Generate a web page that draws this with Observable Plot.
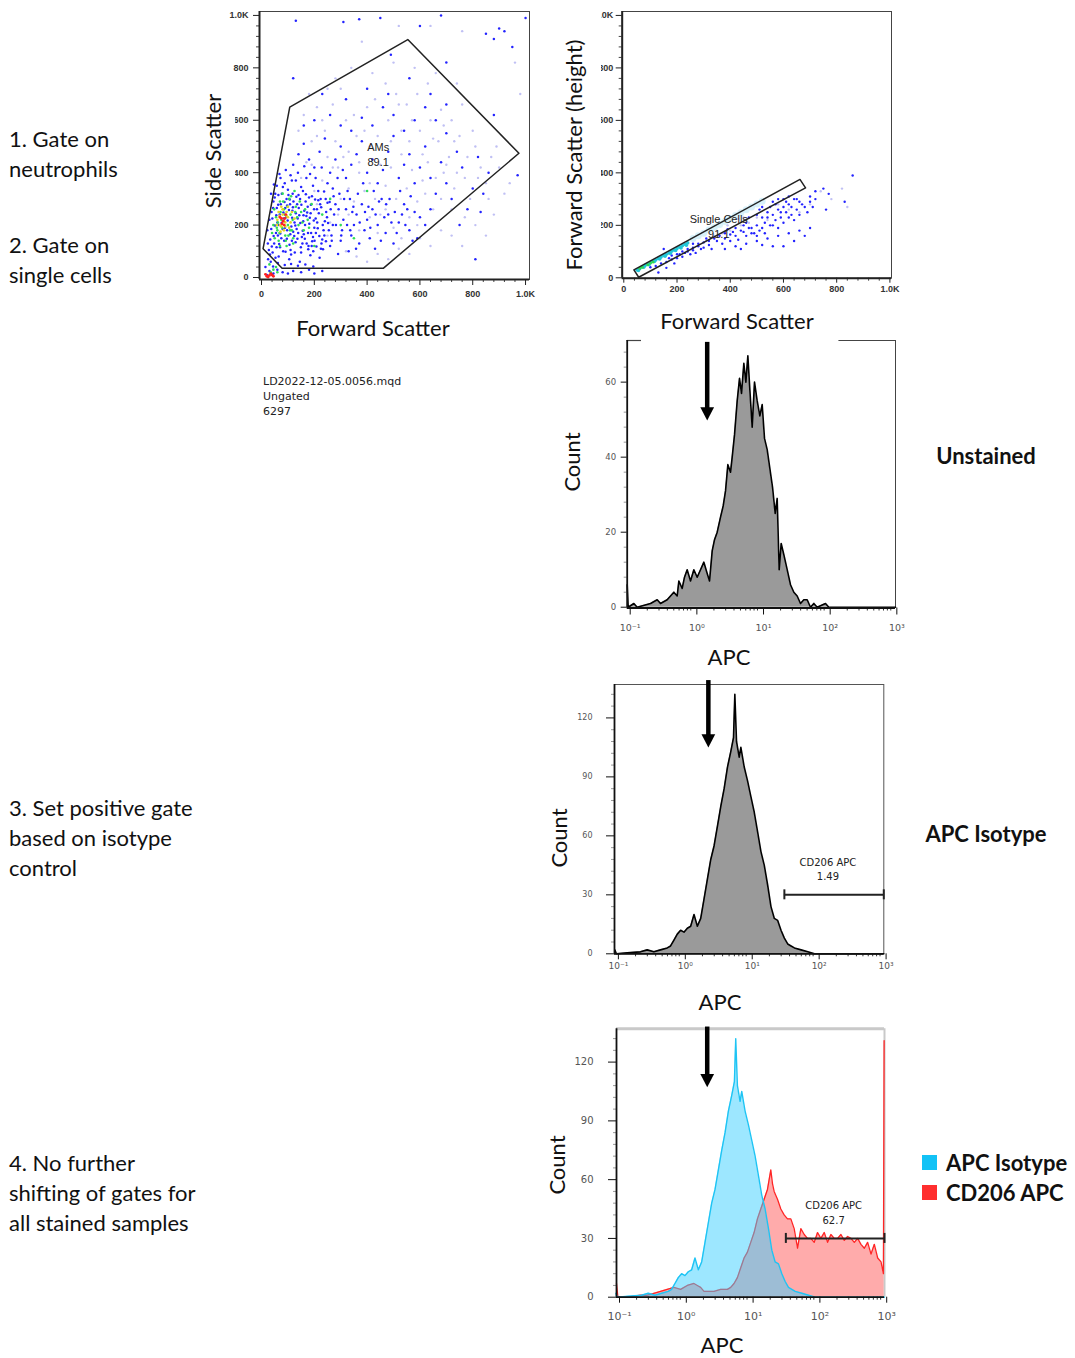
<!DOCTYPE html>
<html><head><meta charset="utf-8">
<script src="https://cdn.jsdelivr.net/npm/d3@7"></script>
<script src="https://cdn.jsdelivr.net/npm/@observablehq/plot@0.6"></script>
<style>
body{margin:0;background:#fff;}
#root{position:relative;width:1075px;height:1358px;overflow:hidden;background:#fff;font-family:Lato,"Noto Sans",sans-serif;color:#111;}
.abs{position:absolute;white-space:nowrap;}
.step{font-size:22px;line-height:30px;}
.title{font-size:22px;line-height:22px;}
.bold{font-weight:bold;font-size:22px;line-height:24px;}
.small{font-family:"DejaVu Sans",sans-serif;font-size:11px;line-height:15px;color:#222;}
svg{position:absolute;overflow:visible;}
</style></head>
<body><div id="root"></div>
<script>
// ---------------- DATA ----------------
// Panel 1: Forward Scatter vs Side Scatter
const amsGate = [[6,110],[78,35],[461,35],[975,474],[554,908],[107,650],[6,110]];
const amsDark = [[35,60],[42,95],[48,130],[55,170],[60,210],[38,250],[45,290],[52,320],[65,80],[70,115],[75,150],[80,185],[85,225],[90,265],[95,300],[100,335],[105,70],[110,105],[115,140],[120,175],[125,210],[130,245],[135,280],[140,315],[145,60],[150,95],[155,130],[160,165],[165,200],[170,235],[175,270],[180,305],[185,85],[190,120],[195,155],[200,190],[205,225],[210,260],[215,295],[220,75],[225,110],[230,145],[235,180],[240,215],[245,250],[250,285],[58,350],[72,380],[88,360],[110,390],[130,370],[150,345],[170,380],[195,350],[215,330],[260,120],[265,160],[270,200],[275,240],[280,280],[290,90],[295,320],[300,140],[305,180],[310,220],[320,260],[330,100],[335,300],[340,160],[350,200],[360,240],[370,130],[380,280],[390,180],[400,220],[410,150],[420,260],[430,110],[440,200],[455,300],[470,170],[480,240],[500,130],[520,210],[540,280],[560,180],[580,250],
[28,105],[33,145],[37,185],[41,225],[44,265],[50,305],[53,75],[57,115],[62,160],[66,200],[69,240],[73,280],[77,320],[82,100],[86,140],[89,190],[93,230],[97,275],[102,315],[106,125],[109,165],[113,195],[117,255],[121,290],[126,95],[129,135],[133,185],[137,225],[141,265],[146,300],[149,115],[153,155],[158,215],[162,255],[167,290],[171,130],[176,170],[181,205],[186,245],[191,310],[196,100],[201,140],[206,170],[211,210],[217,245],[222,280],[227,130],[232,200],[238,160],[243,300],[248,230],[255,180],[262,260],[58,265],[64,315],[81,345],[97,180],[108,280],[118,320],[139,170],[157,330],[178,120],[188,170],[199,260],[224,300],[36,320],[47,355],[68,395],[92,410],[115,370],[138,400],[162,425],[184,395],[205,380],[228,420],[250,360],[270,340],[288,380],[308,410],[326,330],[344,250],[365,320],[385,360],[405,270],[425,330],[445,290],[465,230],[485,300],[505,250],[525,330],[545,200],[565,310],[590,150],
[32,88],[39,118],[46,158],[51,198],[56,238],[63,278],[67,128],[71,168],[76,208],[83,248],[87,288],[91,98],[96,148],[99,218],[104,258],[107,298],[112,88],[116,228],[119,268],[124,158],[128,198],[132,308],[136,148],[143,238],[147,208],[151,278],[156,178],[159,238],[164,148],[168,318],[173,248],[177,108],[183,228],[187,278],[192,138],[198,218],[203,298],[208,118],[213,188],[219,158],[226,268],[233,108],[237,328],[244,138],[252,208],[258,288],[266,140],[273,310],[282,200],[292,260],[302,160],[313,300],[324,200],[336,180],[348,270],[358,110],[372,210],[392,250],[412,190],[432,240],[452,140],[472,280],[492,210],[512,170],[532,240],[552,260],[572,140],[600,230],[620,200],[640,260],[44,42],[62,55],[88,48],[112,52],[138,45],[166,50],[196,42],[24,130],[22,180],[30,220],
[120,430],[140,470],[160,510],[180,450],[200,420],[220,480],[240,530],[260,400],[280,450],[300,500],[320,380],[340,430],[360,470],[380,520],[400,400],[420,450],[440,360],[460,410],[480,480],[500,540],[520,380],[540,430],[560,470],[580,360],[600,420],[620,500],[640,380],[660,320],[680,440],[700,360],[720,300],[750,200],[780,260],[800,340],[840,320],[160,580],[200,600],[260,620],[300,580],[340,560],[380,610],[420,580],[460,650],[500,620],[540,560],[580,600],[620,650],[660,600],[700,550],[740,480],[760,420],[820,460],[230,700],[320,680],[400,720],[480,700],[560,760],[640,700],[700,660],
[130,980],[310,975],[370,985],[450,990],[600,960],[680,1000],[850,930],[880,910],[920,940],[950,880],[120,760],[490,850],[700,820],[900,950],[810,70],[830,250],[860,400],[880,620],[970,390],[1000,990],
[20,10],[30,25],[45,15],[60,30],[80,20],[100,15],[120,25],[150,20],[180,30],[200,15],[230,25],[15,40],[25,70]];
const amsPale = [[200,330],[230,370],[250,160],[270,420],[290,240],[310,460],[330,340],[350,290],[370,400],[390,330],[410,500],[430,300],[450,240],[470,350],[490,420],[510,300],[530,470],[550,340],[570,410],[590,290],[610,370],[630,440],[650,260],[670,520],[690,400],[710,460],[730,340],[750,540],[770,380],[790,300],[810,500],[830,420],[850,360],[870,460],[890,500],[240,560],[280,520],[320,600],[360,540],[400,650],[440,540],[480,600],[520,660],[560,520],[600,560],[640,600],[680,640],[720,600],[760,660],[800,560],[280,760],[340,800],[420,780],[500,820],[580,800],[660,780],[740,740],[320,100],[360,80],[400,60],[440,90],[480,70],[520,110],[560,90],[600,150],[640,120],[680,180],[720,160],[760,120],[170,440],[190,520],[210,650],[250,720],[380,900],[520,960],[640,960],[760,940],[980,700],[960,820],
[210,280],[260,210],[300,300],[330,240],[370,180],[410,230],[440,170],[470,260],[500,190],[530,150],[560,230],[590,200],[620,320],[660,380],[700,430],[740,400],[780,460],[820,380],[860,300],[900,420],[250,460],[290,420],[330,480],[370,440],[410,360],[450,430],[490,520],[530,560],[570,600],[610,470],[650,530],[690,580],[730,520],[350,620],[390,560],[430,680],[470,740],[510,700],[550,660],[590,700],[630,740],[210,540],[230,600],[270,660],[300,720],[160,620],[180,700],[140,560],[150,380],[190,430],[680,300],[720,260],[770,230],[810,200],[850,160],[880,240],[920,320],[940,360]];
const amsGreen = [[60,180],[75,220],[90,160],[85,260],[100,200],[110,240],[70,290],[120,150],[95,120],[130,270],[140,200],[65,140],[105,300],[150,250],[80,320],[160,180],[55,230],[115,180],[175,220],[125,330],[45,200],[190,280],[35,20],[55,40],[200,120],[230,240],[260,300],[300,200],[400,330],[350,150],
[50,150],[58,190],[68,170],[78,190],[88,240],[98,270],[108,180],[118,220],[128,250],[62,210],[72,250],[82,290],[92,140],[102,160],[112,310],[135,230],[145,290],[155,210],[70,120],[48,260],[40,170],[165,260],[180,190],[120,130],[30,50],[45,30],[60,20]];
const amsYellow = [[70,200],[80,240],[90,210],[100,230],[65,250],[85,180],[75,270],[110,210],[60,220],[95,250],[75,195],[85,215],[95,235],[105,190],[68,235],[58,200],[115,250],[80,260],[90,195],[100,270],[125,225],[72,175]];
const amsRed = [[78,205],[88,225],[20,5],[30,8],[25,2],[40,10],[15,12],[70,230],[82,215],[92,240],[76,225],[86,200],[35,15],[45,5]];

// Panel 2: Forward Scatter vs Forward Scatter (height)
const singleGate = [[38,30],[56,2],[683,343],[662,375],[38,30]];
const singleCore = [[50,30],[60,35],[70,42],[80,47],[90,52],[100,58],[110,63],[120,68],[130,74],[140,79],[150,85],[160,90],[170,95],[180,101],[190,106],[200,112],[210,117],[220,122],[230,128],[240,133],[55,28],[75,40],[95,50],[115,62],[135,72],[155,82],[175,94],[195,104],[215,114],[235,124]];
const singleHot = [[70,40],[90,50],[110,60],[60,36],[100,56]];
const singleBand = [[260,150],[280,160],[300,170],[320,182],[340,192],[360,203],[380,215],[400,226],[420,237],[440,248],[460,259],[480,270],[500,281],[520,292]];
const singleDark = [[100,40],[120,45],[140,55],[160,60],[180,70],[200,75],[210,90],[220,80],[230,95],[240,100],[250,90],[260,105],[270,95],[280,120],[290,110],[300,115],[320,125],[330,110],[350,140],[370,130],[380,150],[400,140],[420,160],[430,145],[450,175],[460,160],[480,190],[490,170],[500,200],[510,180],[520,230],[530,210],[540,250],[550,200],[560,240],[570,220],[580,260],[590,230],[600,270],[610,250],[620,280],[630,240],[640,300],[650,260],[660,290],[680,270],[700,310],[720,300],[750,340],[760,260],[770,320],[830,290],[860,390],[130,20],[190,55],[160,38],[150,110],
[420,190],[440,180],[460,210],[470,230],[480,170],[500,240],[510,260],[520,190],[530,170],[540,230],[550,270],[560,200],[570,280],[580,190],[590,250],[600,210],[610,290],[620,230],[630,270],[640,220],[650,300],[660,240],[670,280],[690,250],[700,290],[710,270],[720,330],[360,160],[380,170],[400,165],[340,150],[320,140],[300,135],[280,130],[260,115],[240,110],[220,100],[200,90],[180,85],[170,75],[500,160],[560,290],[600,300],[520,270],[620,310],[580,300],[450,200],[470,190],[410,175],[390,185],[260,130],[310,150],
[420,120],[460,130],[500,140],[540,150],[580,160],[620,170],[660,180],[700,190],[560,120],[640,140],[380,110],[440,110],[600,120],[680,160],[520,125]];
const singlePale = [[310,140],[340,160],[370,170],[400,180],[440,200],[470,210],[500,230],[540,220],[580,280],[620,260],[660,250],[700,280],[740,330],[780,300],[820,340],[840,270],[430,225],[390,200],[450,230]];
const scatterTicks = [0,200,400,600,800,1000];
const scatterTickLabels = ["0","200","400","600","800","1.0K"];

// Histograms: [APC, Count]
const unstainedHist = [[0.1,6],[0.1035,0],[0.126,1],[0.141,0],[0.224,1],[0.282,2],[0.316,1],[0.398,2],[0.501,4],[0.562,3],[0.596,7],[0.668,5],[0.724,8],[0.794,10],[0.891,7],[1.0,10],[1.122,8],[1.259,10],[1.413,12],[1.585,9],[1.718,7],[1.884,15],[2.042,18],[2.239,20],[2.512,24],[2.754,27],[2.985,31],[3.236,38],[3.548,36],[3.758,40],[4.074,46],[4.467,55],[4.842,61],[5.188,57],[5.623,65],[6.026,60],[6.457,67],[6.918,58],[7.499,48],[8.128,60],[8.913,55],[9.772,51],[10.59,54],[11.48,45],[12.59,42],[13.8,37],[15.14,32],[16.6,25],[17.78,29],[19.05,10],[20.42,17],[22.39,14],[25.12,10],[28.18,6],[31.62,4],[35.48,3],[39.81,1],[44.67,2],[50.12,2],[56.23,0],[63.1,1],[70.79,0],[94.4,1],[105.9,0],[1059,0]];
const isotypeHist = [[0.098,2],[0.1035,0],[0.15,0.5],[0.237,1],[0.299,2],[0.376,1],[0.473,2],[0.596,3],[0.668,4],[0.75,7],[0.841,10],[0.944,12],[1.059,11],[1.189,13],[1.334,14],[1.496,20],[1.679,14],[1.884,18],[2.113,28],[2.371,38],[2.661,48],[2.985,55],[3.35,65],[3.758,75],[4.217,84],[4.732,95],[5.309,103],[5.821,110],[6.095,132],[6.457,108],[7.079,100],[7.499,105],[8.414,95],[9.441,88],[10.59,80],[11.89,72],[13.34,62],[14.96,52],[16.79,45],[18.84,35],[21.13,24],[23.71,18],[26.61,17],[29.85,12],[33.5,8],[37.58,5],[42.17,4],[47.32,3],[59.57,2],[74.99,1],[94.41,0],[1025,0]];
const cd206Hist = [[0.1,7],[0.105,0],[0.145,0],[0.229,1],[0.288,1],[0.363,2],[0.457,3],[0.575,4],[0.724,5],[0.912,4],[1.148,6],[1.445,7],[1.622,6],[1.82,5],[2.042,3],[2.291,3],[2.884,3],[3.631,4],[4.571,4],[5.129,5],[5.754,7],[6.457,10],[7.244,15],[8.128,20],[9.12,23],[10.23,28],[11.48,33],[12.88,40],[14.45,45],[16.22,50],[18.2,55],[20.42,65],[21.63,58],[22.91,54],[25.7,50],[28.84,45],[32.36,42],[36.31,40],[40.74,40],[45.71,35],[51.29,25],[57.54,35],[64.57,32],[72.44,30],[81.28,30],[91.2,28],[102.3,33],[114.8,30],[128.8,33],[144.5,28],[162.2,32],[182,30],[204.2,30],[229.1,32],[257,29],[288.4,31],[323.6,30],[363.1,28],[407.4,30],[457.1,27],[512.9,25],[575.4,28],[645.7,22],[724.4,27],[812.8,20],[912,18],[990,12],[1015,131]];
const apcTicks = [0.1,1,10,100,1000];
const apcTickLabels = ["10⁻¹","10⁰","10¹","10²","10³"];
const unstainedCountTicks = [0,20,40,60];
const isotypeCountTicks = [0,30,60,90,120];
// gates & markers
const isoGate = {x1: 33.5, x2: 1025, y: 30, label: "CD206 APC", value: "1.49", lx: 150};
const cdGate = {x1: 34.3, x2: 1028, y: 30, label: "CD206 APC", value: "62.7", lx: 178};
const arrows = [{ax: 1.585, top: 70.6, tip: 49.8}, {ax: 2.45, top: 139, tip: 105}, {ax: 2.28, top: 137.9, tip: 107.2}];

// ---------------- HELPERS ----------------
const root = document.getElementById("root");
function place(node, left, top){ node.style.left = left+"px"; node.style.top = top+"px"; node.style.position = "absolute"; root.appendChild(node); return node; }
function text(str, cls, x, y, opts = {}){
  const d = document.createElement("div");
  d.className = "abs " + cls; d.textContent = str;
  root.appendChild(d);
  d.style.left = x + "px"; d.style.top = y + "px";
  const anchor = opts.anchor || "middle";
  const tx = anchor === "start" ? "0" : "-50%";
  if (opts.rotate) { d.style.transformOrigin = "0 0"; d.style.transform = `rotate(${opts.rotate}deg) translate(-50%,-50%)`; }
  else d.style.transform = `translate(${tx},-50%)`;
  return d;
}
function rect(x, y, w, h, color){
  const d = document.createElement("div");
  d.style.cssText = `position:absolute;left:${x}px;top:${y}px;width:${w}px;height:${h}px;background:${color};`;
  root.appendChild(d); return d;
}
const P = d => d[0], Q = d => d[1];
const scatterMinor = d3.range(0, 1001, 40).filter(v => v % 200 !== 0);
const apcMinor = [0.1,1,10,100].flatMap(b => d3.range(2,10).map(k => k*b));
const tickMap = (vals, labels) => { const m = new Map(vals.map((v,i)=>[v,labels[i]])); return d => m.get(d); };
const downTri = {draw(ctx, size){ const r = Math.sqrt(size/Math.PI); const w = r*1.25, h = r*2.4; ctx.moveTo(-w,-h); ctx.lineTo(w,-h); ctx.lineTo(0,0); ctx.closePath(); }};

// ---------------- PANEL 1 ----------------
const dom1 = [-7.6, 1015];
const p1 = Plot.plot({
  width: 340, height: 300, marginLeft: 59, marginRight: 11, marginTop: 11, marginBottom: 21,
  x: {type: "linear", domain: dom1, axis: null, label: null}, y: {type: "linear", domain: dom1, axis: null, label: null},
  style: {background: "transparent", fontFamily: "Liberation Sans, sans-serif", overflow: "visible"},
  marks: [
    Plot.frame({stroke: "#444", strokeWidth: 1}),
    Plot.dot(amsPale, {x: P, y: Q, r: 1.2, fill: "#c0c0f4"}),
    Plot.dot(amsDark, {x: P, y: Q, r: 1.25, fill: "#2323ff"}),
    Plot.dot(amsGreen, {x: P, y: Q, r: 1.3, fill: "#2fdc5a"}),
    Plot.dot(amsYellow, {x: P, y: Q, r: 1.35, fill: "#e3d626"}),
    Plot.dot(amsRed, {x: P, y: Q, r: 1.45, fill: "#ff2020"}),
    Plot.line(amsGate, {x: P, y: Q, stroke: "#222", strokeWidth: 1.5}),
    Plot.text(["AMs"], {x: 442, y: 497, text: d => d, fontSize: 11, fill: "#222"}),
    Plot.text(["89.1"], {x: 442, y: 440, text: d => d, fontSize: 11, fill: "#222"}),
    Plot.axisX(scatterTicks, {label: null, tickFormat: tickMap(scatterTicks, scatterTickLabels), tickSize: 6, tickPadding: 5, fontSize: 9, fontWeight: "bold", fill: "#333", stroke: "#222"}),
    Plot.axisX(scatterMinor, {label: null, tickSize: 3, text: null, tickFormat: () => "", stroke: "#444"}),
    Plot.axisY(scatterTicks, {label: null, tickFormat: tickMap(scatterTicks, scatterTickLabels), tickSize: 6, tickPadding: 5, fontSize: 9, fontWeight: "bold", fill: "#333", stroke: "#222"}),
    Plot.axisY(scatterMinor, {label: null, tickSize: 3, text: null, tickFormat: () => "", stroke: "#444"}),
    Plot.ruleY([dom1[0]], {stroke: "#222", strokeWidth: 2}),
    Plot.ruleX([dom1[0]], {stroke: "#222", strokeWidth: 2})
  ]
});
place(p1, 200, 0);
rect(198, 78, 37, 154, "#fff");
text("Side Scatter", "title", 213, 151, {rotate: -90});
text("Forward Scatter", "title", 373, 328);
text("LD2022-12-05.0056.mqd", "small", 263, 381, {anchor: "start"});
text("Ungated", "small", 263, 396, {anchor: "start"});
text("6297", "small", 263, 411, {anchor: "start"});

// ---------------- PANEL 2 ----------------
const dom2x = [-6, 1006], dom2y = [-1.5, 1015];
const p2 = Plot.plot({
  width: 340, height: 300, marginLeft: 61.7, marginRight: 9, marginTop: 11, marginBottom: 22.3,
  x: {type: "linear", domain: dom2x, axis: null, label: null}, y: {type: "linear", domain: dom2y, axis: null, label: null},
  style: {background: "transparent", fontFamily: "Liberation Sans, sans-serif", overflow: "visible"},
  marks: [
    Plot.frame({stroke: "#444", strokeWidth: 1}),
    Plot.dot(singleBand, {x: P, y: Q, r: 3.5, fill: "#cdeef9", fillOpacity: 0.8}),
    Plot.dot(singlePale, {x: P, y: Q, r: 1.2, fill: "#c0c0f4"}),
    Plot.dot(singleDark, {x: P, y: Q, r: 1.2, fill: "#2323ff"}),
    Plot.dot(singleCore, {x: P, y: Q, r: 1.8, fill: "#22c7d8"}),
    Plot.dot(singleHot, {x: P, y: Q, r: 1.5, fill: "#30d850"}),
    Plot.line(singleGate, {x: P, y: Q, stroke: "#222", strokeWidth: 1.5}),
    Plot.text(["Single Cells"], {x: 357, y: 221, text: d => d, fontSize: 11, fill: "#222"}),
    Plot.text(["91.1"], {x: 357, y: 164, text: d => d, fontSize: 11, fill: "#222"}),
    Plot.axisX(scatterTicks, {label: null, tickFormat: tickMap(scatterTicks, scatterTickLabels), tickSize: 5, tickPadding: 2, fontSize: 9, fontWeight: "bold", fill: "#333", stroke: "#222"}),
    Plot.axisX(scatterMinor, {label: null, tickSize: 3, text: null, tickFormat: () => "", stroke: "#444"}),
    Plot.axisY(scatterTicks, {label: null, tickFormat: tickMap(scatterTicks, scatterTickLabels), tickSize: 6, tickPadding: 3, fontSize: 9, fontWeight: "bold", fill: "#333", stroke: "#222"}),
    Plot.axisY(scatterMinor, {label: null, tickSize: 3, text: null, tickFormat: () => "", stroke: "#444"}),
    Plot.ruleY([dom2y[0]], {stroke: "#222", strokeWidth: 2}),
    Plot.ruleX([dom2x[0]], {stroke: "#222", strokeWidth: 2})
  ]
});
place(p2, 560, 0);
rect(555, 5, 46, 263, "#fff");
text("Forward Scatter (height)", "title", 574, 155, {rotate: -90});
text("Forward Scatter", "title", 737, 321);

// ---------------- HISTOGRAM helper ----------------
function hist({width, height, margins, xDom, yDom, countTicks, countMinorStep, xTickSize, xTickPad, yTickSize, yTickPad, fontSize, xFontSize, marks}){
  const countMinor = d3.range(0, yDom[1], countMinorStep).filter(v => !countTicks.includes(v));
  return Plot.plot({
    width, height, marginLeft: margins[0], marginRight: margins[1], marginTop: margins[2], marginBottom: margins[3],
    x: {type: "log", domain: xDom, axis: null, label: null}, y: {type: "linear", domain: yDom, axis: null, label: null},
    style: {background: "transparent", fontFamily: "DejaVu Sans, sans-serif", overflow: "visible"},
    marks: [
      ...marks,
      Plot.axisX(apcTicks, {label: null, tickFormat: tickMap(apcTicks, apcTickLabels), tickSize: xTickSize, tickPadding: xTickPad, fontSize: xFontSize, fill: "#555", stroke: "#111", dx: 3}),
      Plot.axisX(apcMinor, {label: null, tickSize: 3, text: null, tickFormat: () => "", stroke: "#333"}),
      Plot.axisY(countTicks, {label: null, tickSize: yTickSize, tickPadding: yTickPad, fontSize, fill: "#555", stroke: "#111"}),
      Plot.axisY(countMinor, {label: null, tickSize: 3, text: null, tickFormat: () => "", stroke: "#999"}),
      Plot.ruleY([yDom[0]], {stroke: "#111", strokeWidth: 1.8}),
      Plot.ruleX([xDom[0]], {stroke: "#111", strokeWidth: 1.8})
    ]
  });
}
function arrowMarks(a){
  return [
    Plot.ruleX([a], {x: d => d.ax, y1: d => d.top, y2: d => d.tip, stroke: "#000", strokeWidth: 4.5, insetBottom: 10}),
    Plot.dot([a], {x: d => d.ax, y: d => d.tip, symbol: downTri, r: 5.5, fill: "#000", stroke: null})
  ];
}
function gateMarks(g){
  return [
    Plot.ruleY([g], {x1: d => d.x1, x2: d => d.x2, y: d => d.y, stroke: "#222", strokeWidth: 2}),
    Plot.ruleX([g.x1, g.x2], {x: d => d, y1: g.y, y2: g.y, insetTop: -5, insetBottom: -5, stroke: "#222", strokeWidth: 2}),
    Plot.text([g], {x: d => d.lx, y: g.y + 16.5, text: d => d.label, fontSize: 10, fill: "#222"}),
    Plot.text([g], {x: d => d.lx, y: g.y + 9, text: d => d.value, fontSize: 10, fill: "#222"})
  ];
}

// ---------------- PANEL 3 (Unstained) ----------------
const dom3x = [0.1, 1059], dom3y = [-0.21, 71.1];
const p3 = hist({
  width: 340, height: 300, margins: [66.7, 5, 5, 27.5], xDom: dom3x, yDom: dom3y,
  countTicks: unstainedCountTicks, countMinorStep: 4, xTickSize: 7, xTickPad: 9, yTickSize: 6, yTickPad: 5, fontSize: 8.5, xFontSize: 9.5,
  marks: [
    Plot.ruleX([dom3x[1]], {stroke: "#444", strokeWidth: 1}),
    Plot.ruleY([[0.1, 0.164], [150, 1059]], {x1: d => d[0], x2: d => d[1], y: dom3y[1], stroke: "#444", strokeWidth: 1.2}),
    Plot.areaY(unstainedHist, {x: P, y: Q, fill: "#9a9a9a"}),
    Plot.lineY(unstainedHist, {x: P, y: Q, stroke: "#000", strokeWidth: 1.6}),
    ...arrowMarks(arrows[0])
  ]
});
place(p3, 560, 335);
text("Count", "title", 572, 462, {rotate: -90});
text("APC", "title", 729, 657);
text("Unstained", "bold", 986, 456);

// ---------------- PANEL 4 (APC Isotype) ----------------
const dom4x = [0.097, 1025], dom4y = [0, 137];
const p4 = hist({
  width: 360, height: 340, margins: [74, 16.7, 4, 66.7], xDom: dom4x, yDom: dom4y,
  countTicks: isotypeCountTicks, countMinorStep: 6, xTickSize: 6, xTickPad: 3, yTickSize: 8, yTickPad: 14, fontSize: 8, xFontSize: 9,
  marks: [
    Plot.frame({stroke: "#555", strokeWidth: 1}),
    Plot.areaY(isotypeHist, {x: P, y: Q, fill: "#9a9a9a"}),
    Plot.lineY(isotypeHist, {x: P, y: Q, stroke: "#000", strokeWidth: 1.6}),
    ...gateMarks(isoGate),
    ...arrowMarks(arrows[1])
  ]
});
place(p4, 540, 680);
text("Count", "title", 559, 838, {rotate: -90});
text("APC", "title", 720, 1002);
text("APC Isotype", "bold", 986, 834);

// ---------------- PANEL 5 (overlay) ----------------
const dom5x = [0.1, 1028], dom5y = [0, 137];
const p5 = hist({
  width: 360, height: 338, margins: [76, 16, 8.3, 61.3], xDom: dom5x, yDom: dom5y,
  countTicks: isotypeCountTicks, countMinorStep: 6, xTickSize: 6, xTickPad: 9, yTickSize: 8, yTickPad: 15, fontSize: 10, xFontSize: 11,
  marks: [
    Plot.ruleY([dom5y[1]], {stroke: "#c9c9c9", strokeWidth: 3}),
    Plot.ruleX([dom5x[1]], {stroke: "#c9c9c9", strokeWidth: 2}),
    Plot.areaY(cd206Hist, {x: P, y: Q, fill: "#ff9c9c", fillOpacity: 0.85}),
    Plot.lineY(cd206Hist, {x: P, y: Q, stroke: "#ff2525", strokeWidth: 1.3}),
    Plot.areaY(isotypeHist, {x: P, y: Q, fill: "#3ccfff", fillOpacity: 0.5}),
    Plot.lineY(isotypeHist, {x: P, y: Q, stroke: "#1ec4f4", strokeWidth: 1.4}),
    ...gateMarks(cdGate),
    ...arrowMarks(arrows[2])
  ]
});
place(p5, 540, 1020);
text("Count", "title", 557, 1165, {rotate: -90});
text("APC", "title", 722, 1345);

// legend
const legendItems = [{label: "APC Isotype", color: "#12c2f6"}, {label: "CD206 APC", color: "#ff2e2e"}];
legendItems.forEach((it, i) => {
  rect(922, 1155 + i*30, 15, 15, it.color);
  text(it.label, "bold", 946, 1163 + i*30, {anchor: "start"});
});

// step texts
const steps = [
  {lines: ["1. Gate on", "neutrophils"], y: 139},
  {lines: ["2. Gate on", "single cells"], y: 245},
  {lines: ["3. Set positive gate", "based on isotype", "control"], y: 808},
  {lines: ["4. No further", "shifting of gates for", "all stained samples"], y: 1163}
];
steps.forEach(s => s.lines.forEach((l, i) => text(l, "step", 9, s.y + i*30, {anchor: "start"})));
</script>
</body></html>
